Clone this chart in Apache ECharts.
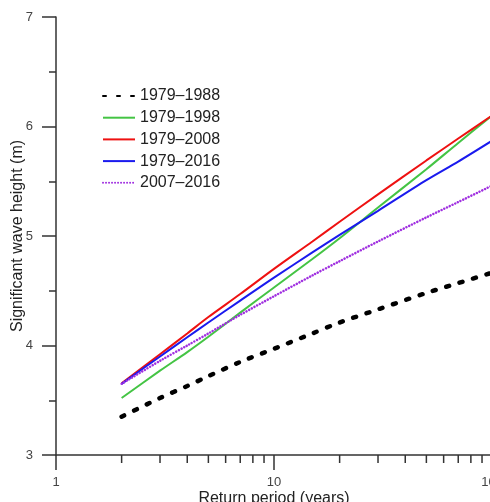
<!DOCTYPE html>
<html>
<head>
<meta charset="utf-8">
<script src="https://cdn.jsdelivr.net/npm/echarts@6/dist/echarts.min.js"></script>
<style>
  html, body { margin: 0; padding: 0; background: #fff; }
  #chart { width: 490px; height: 502px; }
</style>
</head>
<body>
<div id="chart"></div>
<script>
// return periods (years)
const periods = [2, 3, 4, 5, 7, 10, 15, 20, 30, 50, 70, 100];

// significant wave height (m) per period range
const hs7988 = [3.35, 3.52, 3.63, 3.72, 3.85, 3.97, 4.11, 4.21, 4.33, 4.48, 4.57, 4.665];
const hs7998 = [3.52, 3.77, 3.94, 4.08, 4.30, 4.53, 4.79, 4.98, 5.26, 5.61, 5.85, 6.10];
const hs7908 = [3.655, 3.92, 4.11, 4.26, 4.47, 4.70, 4.95, 5.13, 5.38, 5.69, 5.89, 6.10];
const hs7916 = [3.65, 3.90, 4.075, 4.21, 4.41, 4.62, 4.85, 5.01, 5.23, 5.51, 5.68, 5.87];
const hs0716 = [3.65, 3.86, 4.00, 4.11, 4.28, 4.45, 4.64, 4.77, 4.95, 5.17, 5.31, 5.46];

const seriesNames = ['1979\u20131988', '1979\u20131998', '1979\u20132008', '1979\u20132016', '2007\u20132016'];

// minor ticks of the log axis
const xMinorTicks = [2, 3, 4, 5, 6, 7, 8, 9, 20, 30, 40, 50, 60, 70, 80, 90];

const FONT = '"Liberation Sans", Arial, sans-serif';

function pairs(ys) {
    return periods.map((x, i) => [x, ys[i]]);
}

function lineSeries(name, ys, color, width, type, cap) {
    return {
        name: name,
        type: 'line',
        data: pairs(ys),
        symbol: 'none',
        smooth: 0.3,
        lineStyle: { color: color, width: width, type: type, cap: cap || 'butt' },
        itemStyle: { color: color },
        z: 3
    };
}

const chart = echarts.init(document.getElementById('chart'), null, { renderer: 'canvas' });

chart.setOption({
    animation: false,
    backgroundColor: '#fff',
    textStyle: { fontFamily: FONT },
    grid: { left: 56, top: 17, right: -2, bottom: 47, containLabel: false, outerBoundsMode: 'none' },
    legend: {
        data: seriesNames,
        orient: 'vertical',
        left: 102,
        top: 88,
        padding: 0,
        itemWidth: 32,
        itemHeight: 14,
        itemGap: 5.7,
        itemStyle: { opacity: 0 },
        textStyle: { fontFamily: FONT, fontSize: 16, color: '#222' }
    },
    xAxis: {
        type: 'log',
        logBase: 10,
        min: 1,
        max: 100,
        name: 'Return period (years)',
        nameLocation: 'middle',
        nameGap: 36,
        nameMoveOverlap: false,
        nameTextStyle: { fontFamily: FONT, fontSize: 16, color: '#222' },
        axisLine: { lineStyle: { color: '#333', width: 1.5 } },
        axisTick: { length: 15, lineStyle: { color: '#333', width: 1.5 } },
        axisLabel: { margin: 21, fontSize: 13, color: '#444', fontFamily: FONT },
        splitLine: { show: false }
    },
    yAxis: {
        type: 'value',
        min: 3,
        max: 7,
        interval: 1,
        name: 'Significant wave height (m)',
        nameLocation: 'middle',
        nameGap: 30,
        nameMoveOverlap: false,
        nameTextStyle: { fontFamily: FONT, fontSize: 16, color: '#222' },
        axisLine: { show: true, lineStyle: { color: '#333', width: 1.5 } },
        axisTick: { show: true, length: 14, lineStyle: { color: '#333', width: 1.5 } },
        minorTick: { show: true, splitNumber: 2, length: 7, lineStyle: { color: '#333', width: 1.5 } },
        axisLabel: { margin: 23, fontSize: 13, color: '#444', fontFamily: FONT },
        splitLine: { show: false }
    },
    series: [
        lineSeries(seriesNames[0], hs7988, '#000000', 4.5, [3, 11], 'round'),
        lineSeries(seriesNames[1], hs7998, '#44c444', 2, 'solid'),
        lineSeries(seriesNames[2], hs7908, '#ee1111', 2, 'solid'),
        lineSeries(seriesNames[3], hs7916, '#1a1aee', 2, 'solid'),
        lineSeries(seriesNames[4], hs0716, '#a030e0', 2.5, [0.01, 3], 'round'),
        {
            // minor ticks of the log x axis
            type: 'custom',
            silent: true,
            clip: false,
            data: xMinorTicks.map(v => [v, 3]),
            renderItem: (params, api) => {
                const p = api.coord([api.value(0), api.value(1)]);
                return {
                    type: 'line',
                    shape: { x1: p[0], y1: p[1], x2: p[0], y2: p[1] + 8 },
                    style: { stroke: '#333', lineWidth: 1.5 }
                };
            },
            z: 2
        }
    ]
});
</script>
</body>
</html>
